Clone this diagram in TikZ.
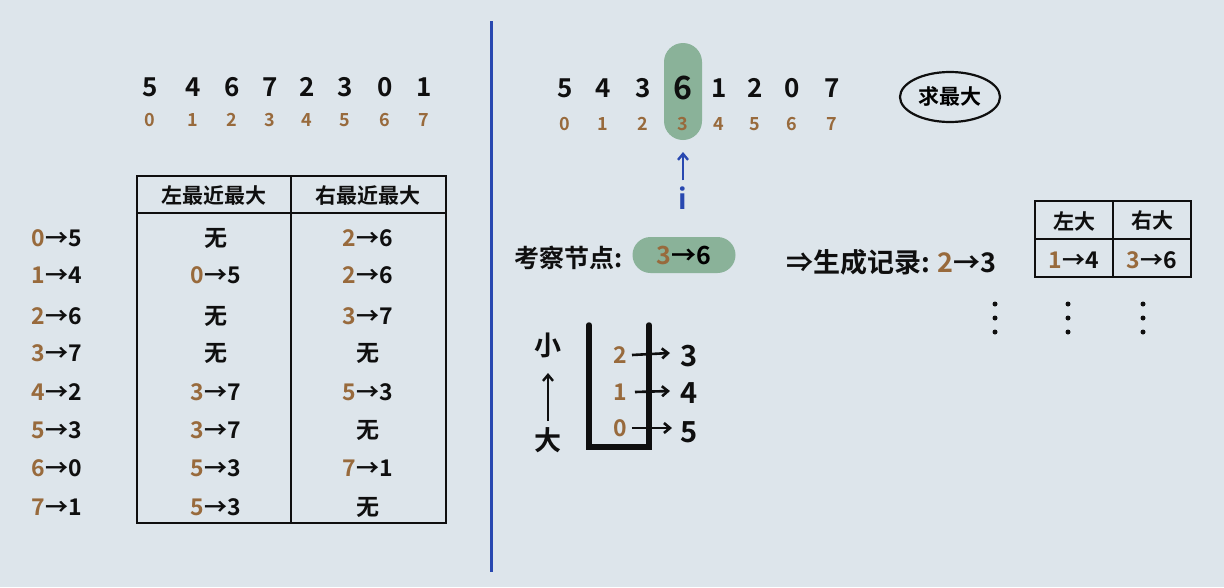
\documentclass[tikz,border=0pt]{standalone}
\usepackage{fontspec}
\setmainfont{Noto Sans CJK SC}[BoldFont={Noto Sans CJK SC Bold}]
\usetikzlibrary{arrows.meta,shapes.geometric}
\definecolor{bg}{RGB}{221,229,235}
\definecolor{brn}{RGB}{152,106,60}
\definecolor{grn}{RGB}{138,178,153}
\definecolor{blu}{RGB}{40,72,176}
\definecolor{ink}{RGB}{15,15,15}
\begin{document}
\begin{tikzpicture}[x=1pt,y=-1pt,
  big/.style={font=\bfseries\fontsize{26}{26}\selectfont, text=ink, inner sep=0pt},
  idx/.style={font=\bfseries\fontsize{18}{18}\selectfont, text=brn, inner sep=0pt},
  cell/.style={font=\bfseries\fontsize{23}{23}\selectfont, text=ink, inner sep=0pt},
  head/.style={font=\bfseries\fontsize{21}{21}\selectfont, text=ink, inner sep=0pt},
  tline/.style={draw=ink, line width=2pt},
  arr/.style={draw=ink, line width=2.6pt, -{Straight Barb[length=6pt,width=10pt]}},
  dot/.style={circle, fill=ink, inner sep=0pt, minimum size=5pt}
]
\fill[bg] (0,0) rectangle (1224,587);
\useasboundingbox (0,0) rectangle (1224,587);

% ---------- left part ----------
\foreach \v/\x [count=\k from 0] in {5/150,4/193,6/232,7/270,2/307,3/345,0/385,1/424}{
  \node[big] (la\k) at (\x,87) {\v};
  \node[idx] (li\k) at (\x,120) {\k};
}

% table
\draw[tline] (137,176) rectangle (446,523);
\draw[tline] (137,213) -- (446,213);
\draw[tline] (291,176) -- (291,523);
\node[head] (hl) at (214,196) {左最近最大};
\node[head] (hr) at (368,196) {右最近最大};

\foreach \a/\b/\c/\d/\e/\f/\y [count=\k] in {
  0/5/{}/无/2/6/238,
  1/4/0/5/2/6/275,
  2/6/{}/无/3/7/316,
  3/7/{}/无/{}/无/353,
  4/2/3/7/5/3/392,
  5/3/3/7/{}/无/430,
  6/0/5/3/7/1/468,
  7/1/5/3/{}/无/507}{
  \node[cell] (rl\k) at (57,\y) {{\color{brn}\a}→\b};
  \node[cell] (rc\k) at (216,\y) {{\color{brn}\c}\ifx\c\empty\else→\fi\d};
  \node[cell] (rr\k) at (368,\y) {{\color{brn}\e}\ifx\e\empty\else→\fi\f};
}

% divider
\draw[blu, line width=3pt] (491,21) -- (491,572);

% ---------- right part ----------
\node[fill=grn, rounded corners=19pt, minimum width=38pt, minimum height=97pt, inner sep=0pt] (pill) at (683,91.5) {};
\foreach \v/\x/\s [count=\k from 0] in {5/565/26,4/603/26,3/643/26,6/683/32,1/719/26,2/755/26,0/792/26,7/832/26}{
  \node[big, font=\bfseries\fontsize{\s}{\s}\selectfont] (ra\k) at (\x,88) {\v};
  \node[idx] (ri\k) at (\x,124) {\k};
}
\node[ellipse, draw=ink, line width=2.2pt, minimum width=100pt, minimum height=50pt, inner sep=0pt, font=\bfseries\fontsize{21}{21}\selectfont] (qiu) at (950,97) {求最大};

\node[font=\bfseries\fontsize{28}{28}\selectfont, text=blu, inner sep=0pt] (iv) at (683,198) {i};
\draw[blu, line width=2.4pt, -{Straight Barb[length=6pt,width=10pt]}] (iv.north) ++(0,-6) -- (683,152);

\node[head, anchor=west, font=\bfseries\fontsize{25}{25}\selectfont] (kc) at (514,258) {考察节点:};
\node[fill=grn, rounded corners=18pt, minimum width=103pt, minimum height=36pt, inner sep=0pt, font=\bfseries\fontsize{25}{25}\selectfont] (kp) at (684,255) {{\color{brn}3}→6};

\node[head, anchor=west, font=\bfseries\fontsize{27}{27}\selectfont] (sc) at (786,262) {⇒生成记录:\;{\color{brn}2}→3};

% small table
\draw[tline] (1035,201) rectangle (1191,277);
\draw[tline] (1035,239) -- (1191,239);
\draw[tline] (1113,201) -- (1113,277);
\node[head] (sl) at (1074,221) {左大};
\node[head] (sr) at (1152,221) {右大};
\node[cell] (sv1) at (1074,260) {{\color{brn}1}→4};
\node[cell] (sv2) at (1152,260) {{\color{brn}3}→6};

% vertical dots
\foreach \x [count=\k] in {995,1068,1143}{
  \node[dot] (d\k a) at (\x,304) {};
  \node[dot] (d\k b) at (\x,318) {};
  \node[dot] (d\k c) at (\x,332) {};
}

% stack
\draw[draw=ink, line width=5.5pt, line cap=round, line join=miter] (589,325) -- (589,447) -- (649,447) -- (649,325);
\node[cell, text=brn] (s2) at (620,355) {2};
\node[cell, text=brn] (s1) at (620,392) {1};
\node[cell, text=brn] (s0) at (620,428) {0};
\node[big, font=\bfseries\fontsize{29}{29}\selectfont] (v3) at (689,356) {3};
\node[big, font=\bfseries\fontsize{29}{29}\selectfont] (v4) at (689,393) {4};
\node[big, font=\bfseries\fontsize{29}{29}\selectfont] (v5) at (689,432) {5};
\draw[arr] (s2.east) ++(5,0) -- (670,353);
\draw[arr] (s1.east) ++(8,0) -- (670,391);
\draw[arr] (s0.east) ++(5,0) -- (672,428);

\node[cell, font=\bfseries\fontsize{27}{27}\selectfont] (xiao) at (548,345) {小};
\node[cell, font=\bfseries\fontsize{27}{27}\selectfont] (da) at (548,440) {大};
\draw[draw=ink, line width=2.4pt, -{Straight Barb[length=6pt,width=10pt]}] (da.north) ++(0,-6) -- (548,373);
\end{tikzpicture}
\end{document}
